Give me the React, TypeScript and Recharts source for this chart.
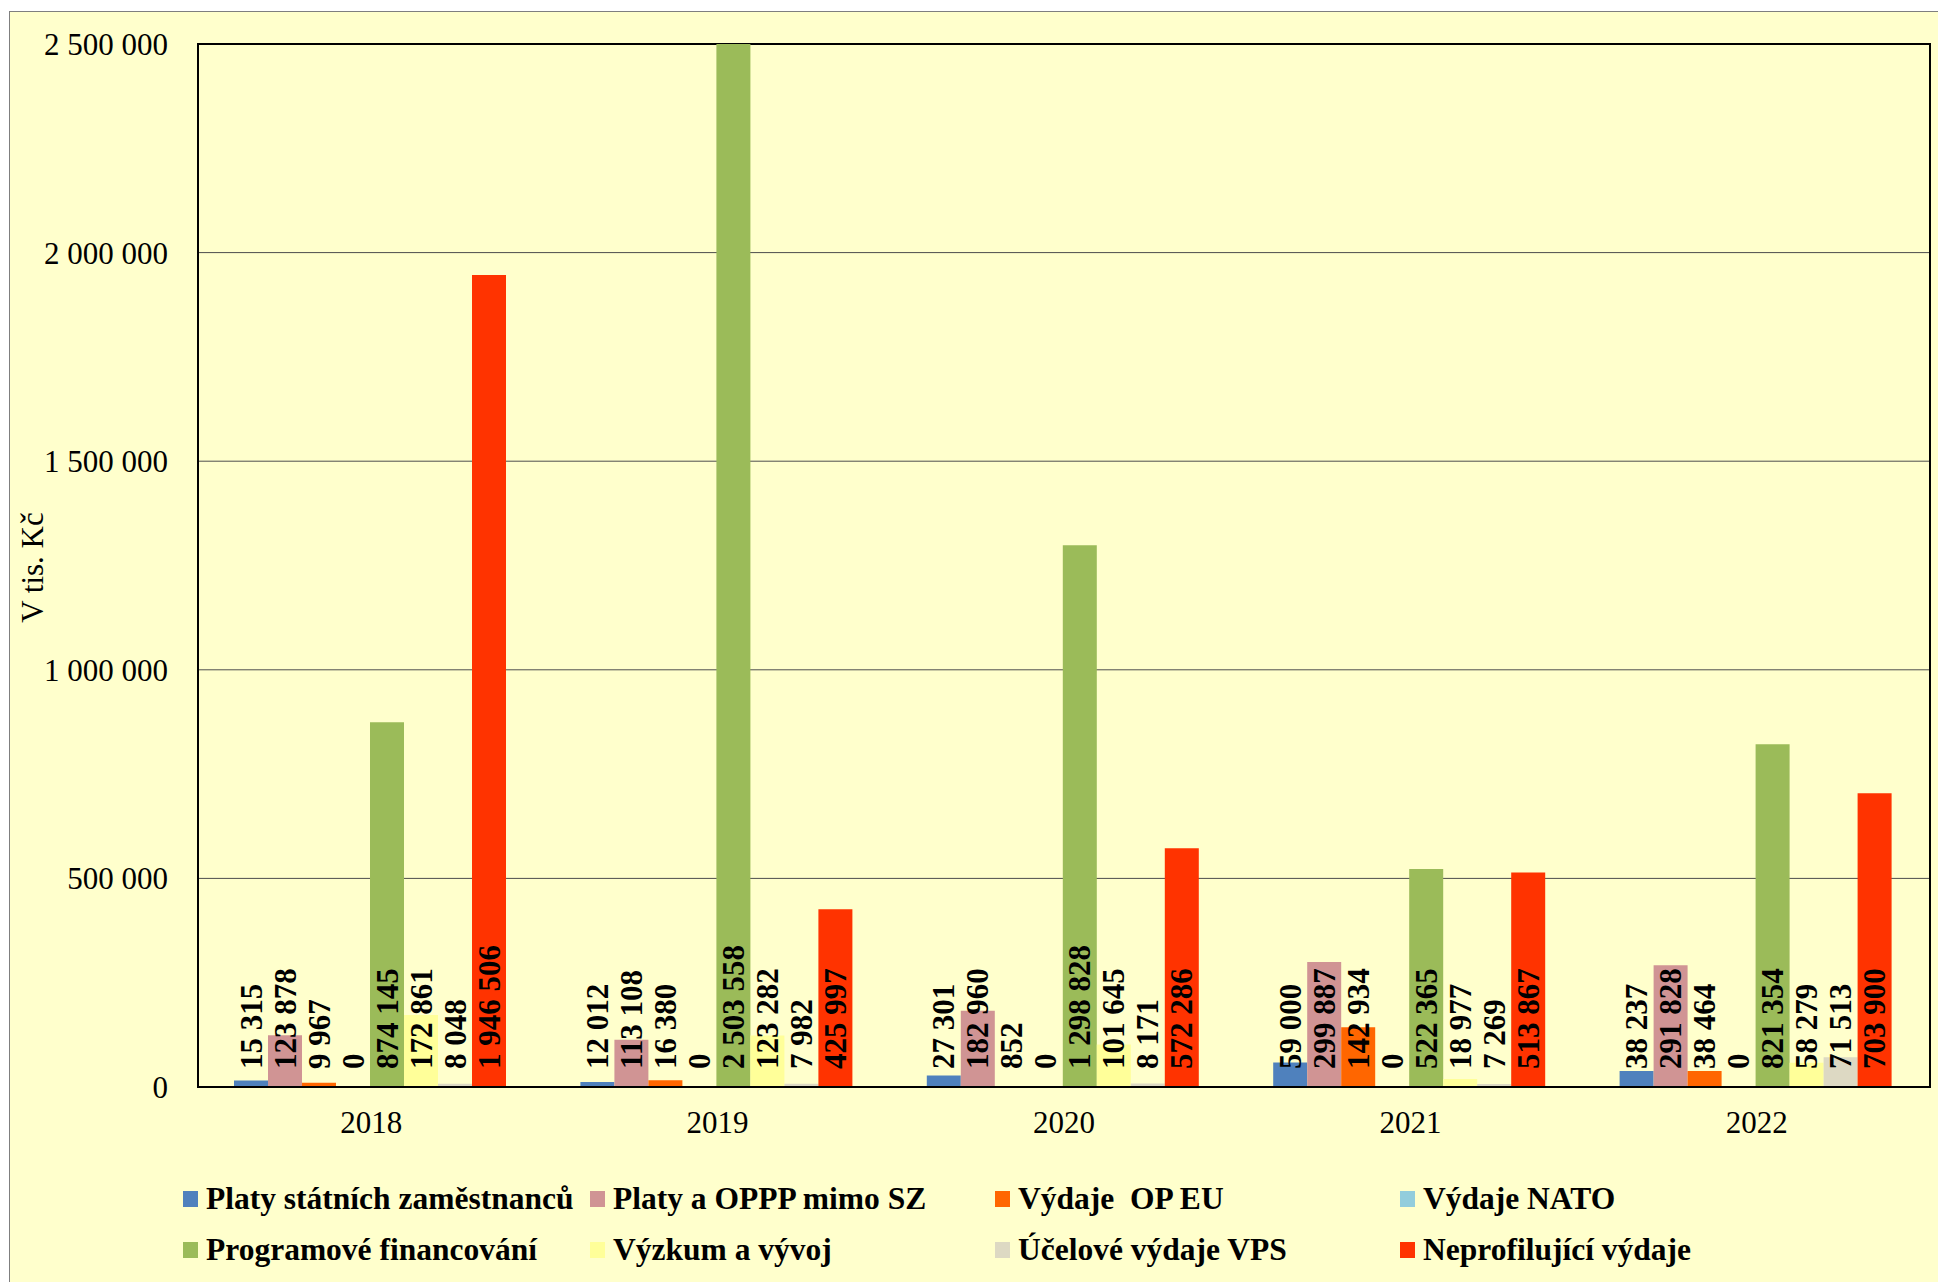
import { BarChart, Bar, XAxis, YAxis, CartesianGrid, LabelList, ReferenceArea } from 'recharts';

const years = ['2018', '2019', '2020', '2021', '2022'];

const seriesNames = [
  'Platy státních zaměstnanců',
  'Platy a OPPP mimo SZ',
  'Výdaje  OP EU',
  'Výdaje NATO',
  'Programové financování',
  'Výzkum a vývoj',
  'Účelové výdaje VPS',
  'Neprofilující výdaje',
];

const seriesColors = ['#4F81BD', '#D09494', '#FF6600', '#92CDDC', '#9BBB59', '#FFFF99', '#DDD9C3', '#FF3300'];

const platyStatni = [15315, 12012, 27301, 59000, 38237];
const platyOppp = [123878, 113108, 182960, 299887, 291828];
const opEu = [9967, 16380, 852, 142934, 38464];
const nato = [0, 0, 0, 0, 0];
const programove = [874145, 2503558, 1298828, 522365, 821354];
const vyzkum = [172861, 123282, 101645, 18977, 58279];
const ucelove = [8048, 7982, 8171, 7269, 71513];
const neprofilujici = [1946506, 425997, 572286, 513867, 703900];

const yTicks = [0, 500000, 1000000, 1500000, 2000000, 2500000];

const seriesValues = [platyStatni, platyOppp, opEu, nato, programove, vyzkum, ucelove, neprofilujici];

const data = years.map((year, i) => {
  const row: Record<string, string | number> = { year };
  seriesValues.forEach((vals, s) => {
    row[`s${s}`] = vals[i];
  });
  return row;
});

const FONT = '"Liberation Serif", "Times New Roman", serif';

function fmt(v: number) {
  return String(v).replace(/\B(?=(\d{3})+(?!\d))/g, ' ');
}

// value labels read bottom-up and all start just above the axis
function BarValue(props: any) {
  const { x, y, width, height, value } = props;
  const cx = Number(x) + Number(width) / 2;
  const base = Number(y) + Math.max(Number(height), 0) - 18;
  return (
    <text
      x={cx}
      y={base}
      transform={`rotate(-90, ${cx}, ${base})`}
      textAnchor="start"
      dominantBaseline="central"
      fontFamily={FONT}
      fontWeight="bold"
      fontSize={31}
      fill="#000"
    >
      {fmt(Number(value))}
    </text>
  );
}

function YTitle(props: any) {
  const vb = props.viewBox;
  const x = vb.x - 16;
  const y = vb.y + vb.height / 2 + 2;
  return (
    <text
      x={x}
      y={y}
      transform={`rotate(-90, ${x}, ${y})`}
      textAnchor="middle"
      dominantBaseline="central"
      fontFamily={FONT}
      fontSize={31}
      fill="#000"
    >
      V tis. Kč
    </text>
  );
}

const legendCols = [183, 590, 995, 1400];
const legendRows = [1199, 1250];

export default function App() {
  return (
    <div style={{ position: 'absolute', left: 0, top: 0, width: 1938, height: 1282, overflow: 'hidden', background: '#fff' }}>
      <div
        style={{
          position: 'absolute',
          left: 9,
          top: 11,
          width: 1960,
          height: 1320,
          background: '#FFFFCC',
          border: '1.5px solid #7F7F7F',
          boxSizing: 'border-box',
        }}
      />
      <div style={{ position: 'absolute', left: 9, top: 11 }}>
        <BarChart
          width={1929}
          height={1271}
          data={data}
          margin={{ top: 33, right: 8, left: 39, bottom: 155 }}
          barCategoryGap={36}
          barGap={0}
        >
          <CartesianGrid vertical={false} stroke="#4d4d4d" strokeWidth={1} />
          <XAxis
            dataKey="year"
            height={40}
            tickLine={false}
            tickSize={6}
            tickMargin={18}
            axisLine={{ stroke: '#000', strokeWidth: 2 }}
            tick={{ fontFamily: FONT, fontSize: 31, fill: '#000' }}
          />
          <YAxis
            width={150}
            domain={[0, 2500000]}
            ticks={yTicks}
            allowDataOverflow
            tickFormatter={fmt}
            tickLine={false}
            tickSize={12}
            tickMargin={18}
            axisLine={{ stroke: '#000', strokeWidth: 2 }}
            tick={{ fontFamily: FONT, fontSize: 31, fill: '#000' }}
            label={{ content: <YTitle /> }}
          />
          {seriesNames.map((name, s) => (
            <Bar
              key={name}
              dataKey={`s${s}`}
              name={name}
              fill={seriesColors[s]}
              minPointSize={0.1}
              isAnimationActive={false}
            >
              <LabelList dataKey={`s${s}`} content={<BarValue />} />
            </Bar>
          ))}
          <ReferenceArea y1={0} y2={2500000} fill="none" stroke="#000" strokeWidth={2} ifOverflow="visible" />
        </BarChart>
      </div>
      {seriesNames.map((name, s) => (
        <div
          key={name}
          style={{
            position: 'absolute',
            left: legendCols[s % 4],
            top: legendRows[Math.floor(s / 4)] - 20,
            height: 40,
            display: 'flex',
            alignItems: 'center',
            whiteSpace: 'pre',
            fontFamily: FONT,
            fontWeight: 'bold',
            fontSize: 31.5,
            color: '#000',
          }}
        >
          <span style={{ display: 'inline-block', width: 15, height: 16, background: seriesColors[s], marginRight: 8 }} />
          {name}
        </div>
      ))}
    </div>
  );
}
